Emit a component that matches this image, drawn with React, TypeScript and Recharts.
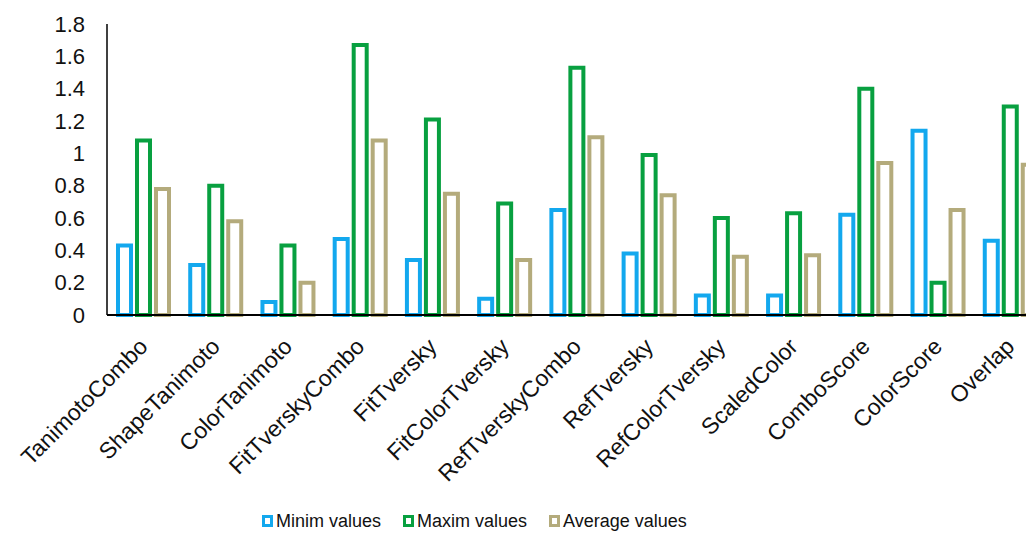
import React from "react";
import { Bar, BarChart, Legend, XAxis, YAxis } from "recharts";

const categories = [
  "TanimotoCombo",
  "ShapeTanimoto",
  "ColorTanimoto",
  "FitTverskyCombo",
  "FitTversky",
  "FitColorTversky",
  "RefTverskyCombo",
  "RefTversky",
  "RefColorTversky",
  "ScaledColor",
  "ComboScore",
  "ColorScore",
  "Overlap",
];

const minValues = [0.43, 0.31, 0.08, 0.47, 0.34, 0.1, 0.65, 0.38, 0.12, 0.12, 0.62, 1.14, 0.46];
const maxValues = [1.08, 0.8, 0.43, 1.67, 1.21, 0.69, 1.53, 0.99, 0.6, 0.63, 1.4, 0.2, 1.29];
const avgValues = [0.78, 0.58, 0.2, 1.08, 0.75, 0.34, 1.1, 0.74, 0.36, 0.37, 0.94, 0.65, 0.93];

const yTicks = [0, 0.2, 0.4, 0.6, 0.8, 1, 1.2, 1.4, 1.6, 1.8];

const series = [
  { key: "min", name: "Minim values", color: "#13a8ee" },
  { key: "max", name: "Maxim values", color: "#08a040" },
  { key: "avg", name: "Average values", color: "#b4ab7c" },
];

const FONT = '"Liberation Sans", Arial, sans-serif';

const data = categories.map((name, i) => ({
  name,
  min: minValues[i],
  max: maxValues[i],
  avg: avgValues[i],
}));

const CategoryTick = ({ x, y, payload }: any) => (
  <g transform={`translate(${x + 6},${y + 31})`}>
    <text transform="rotate(-45)" textAnchor="end" fontSize={23} fontFamily={FONT} fill="#111">
      {payload.value}
    </text>
  </g>
);

const LegendBox = () => (
  <div
    style={{
      height: 30,
      display: "flex",
      alignItems: "center",
      paddingLeft: 254,
      fontFamily: FONT,
      fontSize: 18,
      color: "#111",
    }}>
    {series.map((s) => (
      <div key={s.key} style={{ display: "flex", alignItems: "center", marginRight: 22 }}>
        <span
          style={{
            width: 5,
            height: 6,
            border: `3px solid ${s.color}`,
            background: "#fff",
            marginRight: 3,
            display: "inline-block",
          }}
        />
        <span>{s.name}</span>
      </div>
    ))}
  </div>
);

export default function App() {
  return (
    <div style={{ width: 1026, overflow: "hidden" }}>
      <BarChart
        width={1042}
        height={528}
        data={data}
        margin={{ top: 16, right: 4, bottom: 0, left: 0 }}
        barSize={13}
        barGap={6}>
        <XAxis
          dataKey="name"
          interval={0}
          height={191}
          tickLine={false}
          tickSize={0}
          axisLine={{ stroke: "#000", strokeWidth: 2 }}
          tick={<CategoryTick />}
        />
        <YAxis
          width={99}
          domain={[0, 1.8]}
          ticks={yTicks}
          tickLine={false}
          tickSize={0}
          tickMargin={22}
          axisLine={{ stroke: "#000", strokeWidth: 1.5 }}
          tick={{ fill: "#111", fontSize: 22, fontFamily: FONT }}
        />
        <Legend verticalAlign="bottom" content={<LegendBox />} />
        {series.map((s) => (
          <Bar
            key={s.key}
            dataKey={s.key}
            name={s.name}
            fill="#fff"
            stroke={s.color}
            strokeWidth={4}
            isAnimationActive={false}
          />
        ))}
      </BarChart>
    </div>
  );
}
